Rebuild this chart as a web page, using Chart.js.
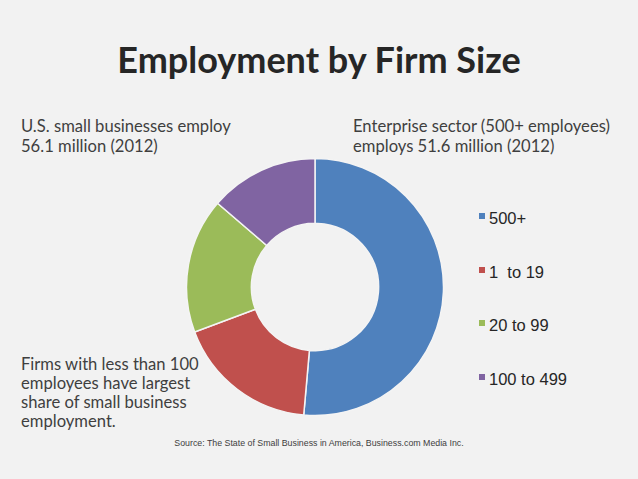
<!DOCTYPE html>
<html lang="en">
<head>
  <meta charset="UTF-8">
  <title>Employment by Firm Size</title>
  <script src="https://cdn.jsdelivr.net/npm/chart.js"></script>
  <style>
    body {
      margin: 0;
      width: 638px;
      height: 479px;
      background-color: #f2f2f2;
      font-family: 'Lato', sans-serif;
      color: #3f3f3f;
      position: relative;
      overflow: hidden;
    }
    .title {
      position: absolute;
      left: 0;
      width: 638px;
      top: 37px;
      text-align: center;
      font-size: 36px;
      font-weight: 700;
      color: #262626;
    }
    .note {
      position: absolute;
      font-size: 16.6px;
      line-height: 20px;
    }
    .source {
      position: absolute;
      left: 0;
      width: 638px;
      top: 438px;
      text-align: center;
      font-family: 'Liberation Sans', Arial, sans-serif;
      font-size: 8.8px;
      color: #404040;
    }
    #chartBox {
      position: absolute;
      left: 185px;
      top: 157px;
      width: 260px;
      height: 260px;
    }
    #legend {
      position: absolute;
      left: 479px;
      top: 209px;
      font-family: 'Liberation Sans', Arial, sans-serif;
      font-size: 16.5px;
      color: #262626;
    }
    #legend div {
      height: 53.5px;
      white-space: pre;
    }
    #legend span {
      display: inline-block;
      width: 6px;
      height: 6px;
      margin-right: 4px;
      vertical-align: 5px;
    }
  </style>
</head>
<body>
  <div class="title">Employment by Firm Size</div>
  <div class="note" style="left: 21px; top: 116px;">U.S. small businesses employ<br>56.1 million (2012)</div>
  <div class="note" style="left: 353px; top: 116px;">Enterprise sector (500+ employees)<br>employs 51.6 million (2012)</div>
  <div class="note" style="left: 21px; top: 355px; line-height: 19px;">Firms with less than 100<br>employees have largest<br>share of small business<br>employment.</div>

  <div id="chartBox"><canvas id="donut" width="260" height="260"></canvas></div>
  <div id="legend"></div>

  <div class="source">Source: The State of Small Business in America, Business.com Media Inc.</div>

  <script>
    // share of employment by firm size (%)
    const sizes = ['500+', '1  to 19', '20 to 99', '100 to 499'];
    const shares = [51.4, 17.9, 17.0, 13.7];
    const colors = ['#4f81bd', '#c0504d', '#9bbb59', '#8064a2'];

    new Chart(document.getElementById('donut'), {
      type: 'doughnut',
      data: {
        labels: sizes,
        datasets: [{
          data: shares,
          backgroundColor: colors,
          borderColor: '#f4f4f4',
          borderWidth: 1.5
        }]
      },
      options: {
        responsive: false,
        animation: false,
        radius: 128.5,
        cutout: 64,
        plugins: {
          legend: { display: false },
          tooltip: { enabled: false }
        }
      }
    });

    const legend = document.getElementById('legend');
    sizes.forEach((s, i) => {
      const row = document.createElement('div');
      const box = document.createElement('span');
      box.style.backgroundColor = colors[i];
      row.appendChild(box);
      row.appendChild(document.createTextNode(s));
      legend.appendChild(row);
    });
  </script>
</body>
</html>
